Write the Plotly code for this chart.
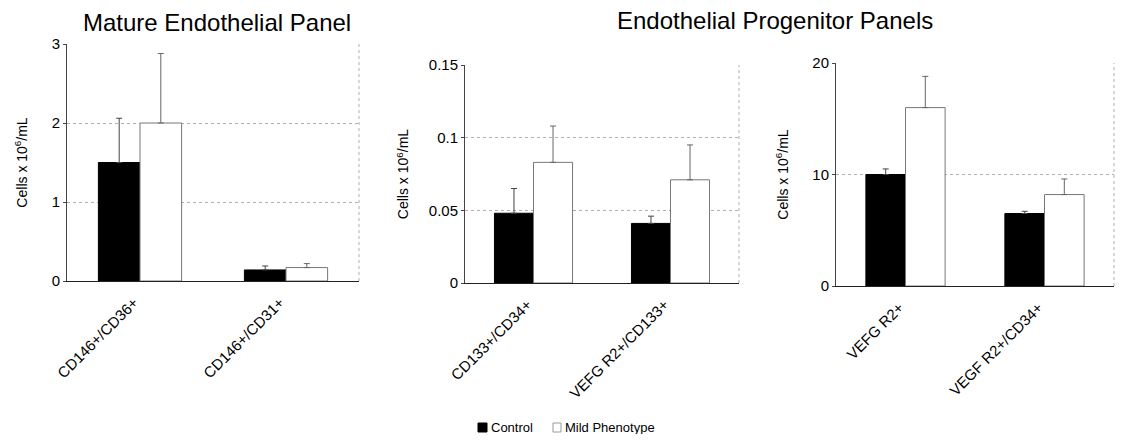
import plotly.graph_objects as go
from plotly.subplots import make_subplots

# panel categories
mature_cats = ["CD146+/CD36+", "CD146+/CD31+"]
prog_cats_a = ["CD133+/CD34+", "VEFG R2+/CD133+"]
prog_cats_b = ["VEFG R2+", "VEGF R2+/CD34+"]

# means
mature_control = [1.5, 0.14]
mature_mild = [2.0, 0.17]
prog_a_control = [0.048, 0.041]
prog_a_mild = [0.083, 0.071]
prog_b_control = [10.0, 6.5]
prog_b_mild = [16.0, 8.2]

# upper error bars
mature_control_err = [0.56, 0.05]
mature_mild_err = [0.88, 0.05]
prog_a_control_err = [0.017, 0.005]
prog_a_mild_err = [0.025, 0.024]
prog_b_control_err = [0.5, 0.2]
prog_b_mild_err = [2.8, 1.4]

y_ranges = [[0, 3], [0, 0.15], [0, 20]]
y_dticks = [1, 0.05, 10]

legend_names = ["Control", "Mild Phenotype"]

FONT = "Liberation Sans, Arial, sans-serif"
GRID = "#b0b0b0"

# page body has an 8px margin, so size the figure to fit the window
W, H = 1107, 426


def px_x(p):
    return (p - 8) / W


def px_y(p):
    return 1 - (p - 8) / H


fig = make_subplots(rows=1, cols=3)

panels = [
    (mature_cats, mature_control, mature_mild, mature_control_err, mature_mild_err),
    (prog_cats_a, prog_a_control, prog_a_mild, prog_a_control_err, prog_a_mild_err),
    (prog_cats_b, prog_b_control, prog_b_mild, prog_b_control_err, prog_b_mild_err),
]

for i, (cats, ctrl, mild, ctrl_err, mild_err) in enumerate(panels):
    col = i + 1
    fig.add_trace(
        go.Bar(
            x=cats,
            y=ctrl,
            name=legend_names[0],
            marker=dict(color="black", line=dict(color="black", width=1)),
            error_y=dict(type="data", array=ctrl_err, arrayminus=[0] * len(ctrl_err), symmetric=False,
                         color="#444", thickness=1, width=3),
            showlegend=False,
        ),
        row=1, col=col,
    )
    fig.add_trace(
        go.Bar(
            x=cats,
            y=mild,
            name=legend_names[1],
            marker=dict(color="white", line=dict(color="#777", width=1)),
            error_y=dict(type="data", array=mild_err, arrayminus=[0] * len(mild_err), symmetric=False,
                         color="#666", thickness=1, width=3),
            showlegend=False,
        ),
        row=1, col=col,
    )

x_px = [(67, 359), (465, 739), (836, 1114)]
y_px = [(44, 281), (65, 283), (63, 286)]
standoffs = [20, 16, 20]

for i in range(3):
    col = i + 1
    fig.update_xaxes(
        domain=[px_x(x_px[i][0]), px_x(x_px[i][1])],
        automargin=False,
        tickangle=-45,
        tickfont=dict(family=FONT, size=15, color="black"),
        ticklabelstandoff=6,
        ticklabelshift=-6,
        showline=True, linecolor="#222", linewidth=1,
        showgrid=False,
        ticks="",
        row=1, col=col,
    )
    fig.update_yaxes(
        domain=[px_y(y_px[i][1]), px_y(y_px[i][0])],
        automargin=False,
        range=y_ranges[i],
        dtick=y_dticks[i],
        tickfont=dict(family=FONT, size=15, color="black"),
        showline=True, linecolor="#444", linewidth=1,
        ticks="outside", ticklen=3, tickcolor="#444",
        showgrid=True, gridcolor=GRID, griddash="dot", gridwidth=1,
        zeroline=False,
        title=dict(text="Cells x 10<sup>6</sup>/mL", font=dict(family=FONT, size=14, color="black"),
                   standoff=standoffs[i]),
        row=1, col=col,
    )
    xref = "x domain" if i == 0 else "x%d domain" % col
    yref = "y domain" if i == 0 else "y%d domain" % col
    fig.add_shape(type="line", xref=xref, yref=yref, x0=1, x1=1, y0=0, y1=1,
                  line=dict(color=GRID, width=1, dash="dot"))

fig.add_annotation(text="Mature Endothelial Panel", xref="paper", yref="paper",
                   x=px_x(217), y=px_y(23), xanchor="center", yanchor="middle", showarrow=False,
                   font=dict(family=FONT, size=24, color="black"))
fig.add_annotation(text="Endothelial Progenitor Panels", xref="paper", yref="paper",
                   x=px_x(775), y=px_y(21), xanchor="center", yanchor="middle", showarrow=False,
                   font=dict(family=FONT, size=24, color="black"))

# legend drawn by hand so it can sit right at the bottom edge
fig.add_shape(type="rect", xref="paper", yref="paper",
              x0=px_x(478), x1=px_x(487), y0=px_y(432), y1=px_y(423),
              fillcolor="black", line=dict(color="black", width=1))
fig.add_annotation(text=legend_names[0], xref="paper", yref="paper",
                   x=px_x(489), y=px_y(427), xanchor="left", yanchor="middle", showarrow=False,
                   font=dict(family=FONT, size=13, color="black"))
fig.add_shape(type="rect", xref="paper", yref="paper",
              x0=px_x(553), x1=px_x(561), y0=px_y(432), y1=px_y(423),
              fillcolor="white", line=dict(color="#999", width=1))
fig.add_annotation(text=legend_names[1], xref="paper", yref="paper",
                   x=px_x(563), y=px_y(427), xanchor="left", yanchor="middle", showarrow=False,
                   font=dict(family=FONT, size=13, color="black"))

fig.update_layout(
    width=W,
    height=H,
    margin=dict(l=0, r=0, t=0, b=0),
    plot_bgcolor="white",
    paper_bgcolor="white",
    barmode="group",
    bargap=0.43,
    bargroupgap=0,
    showlegend=False,
)

fig.write_html("out.html")
